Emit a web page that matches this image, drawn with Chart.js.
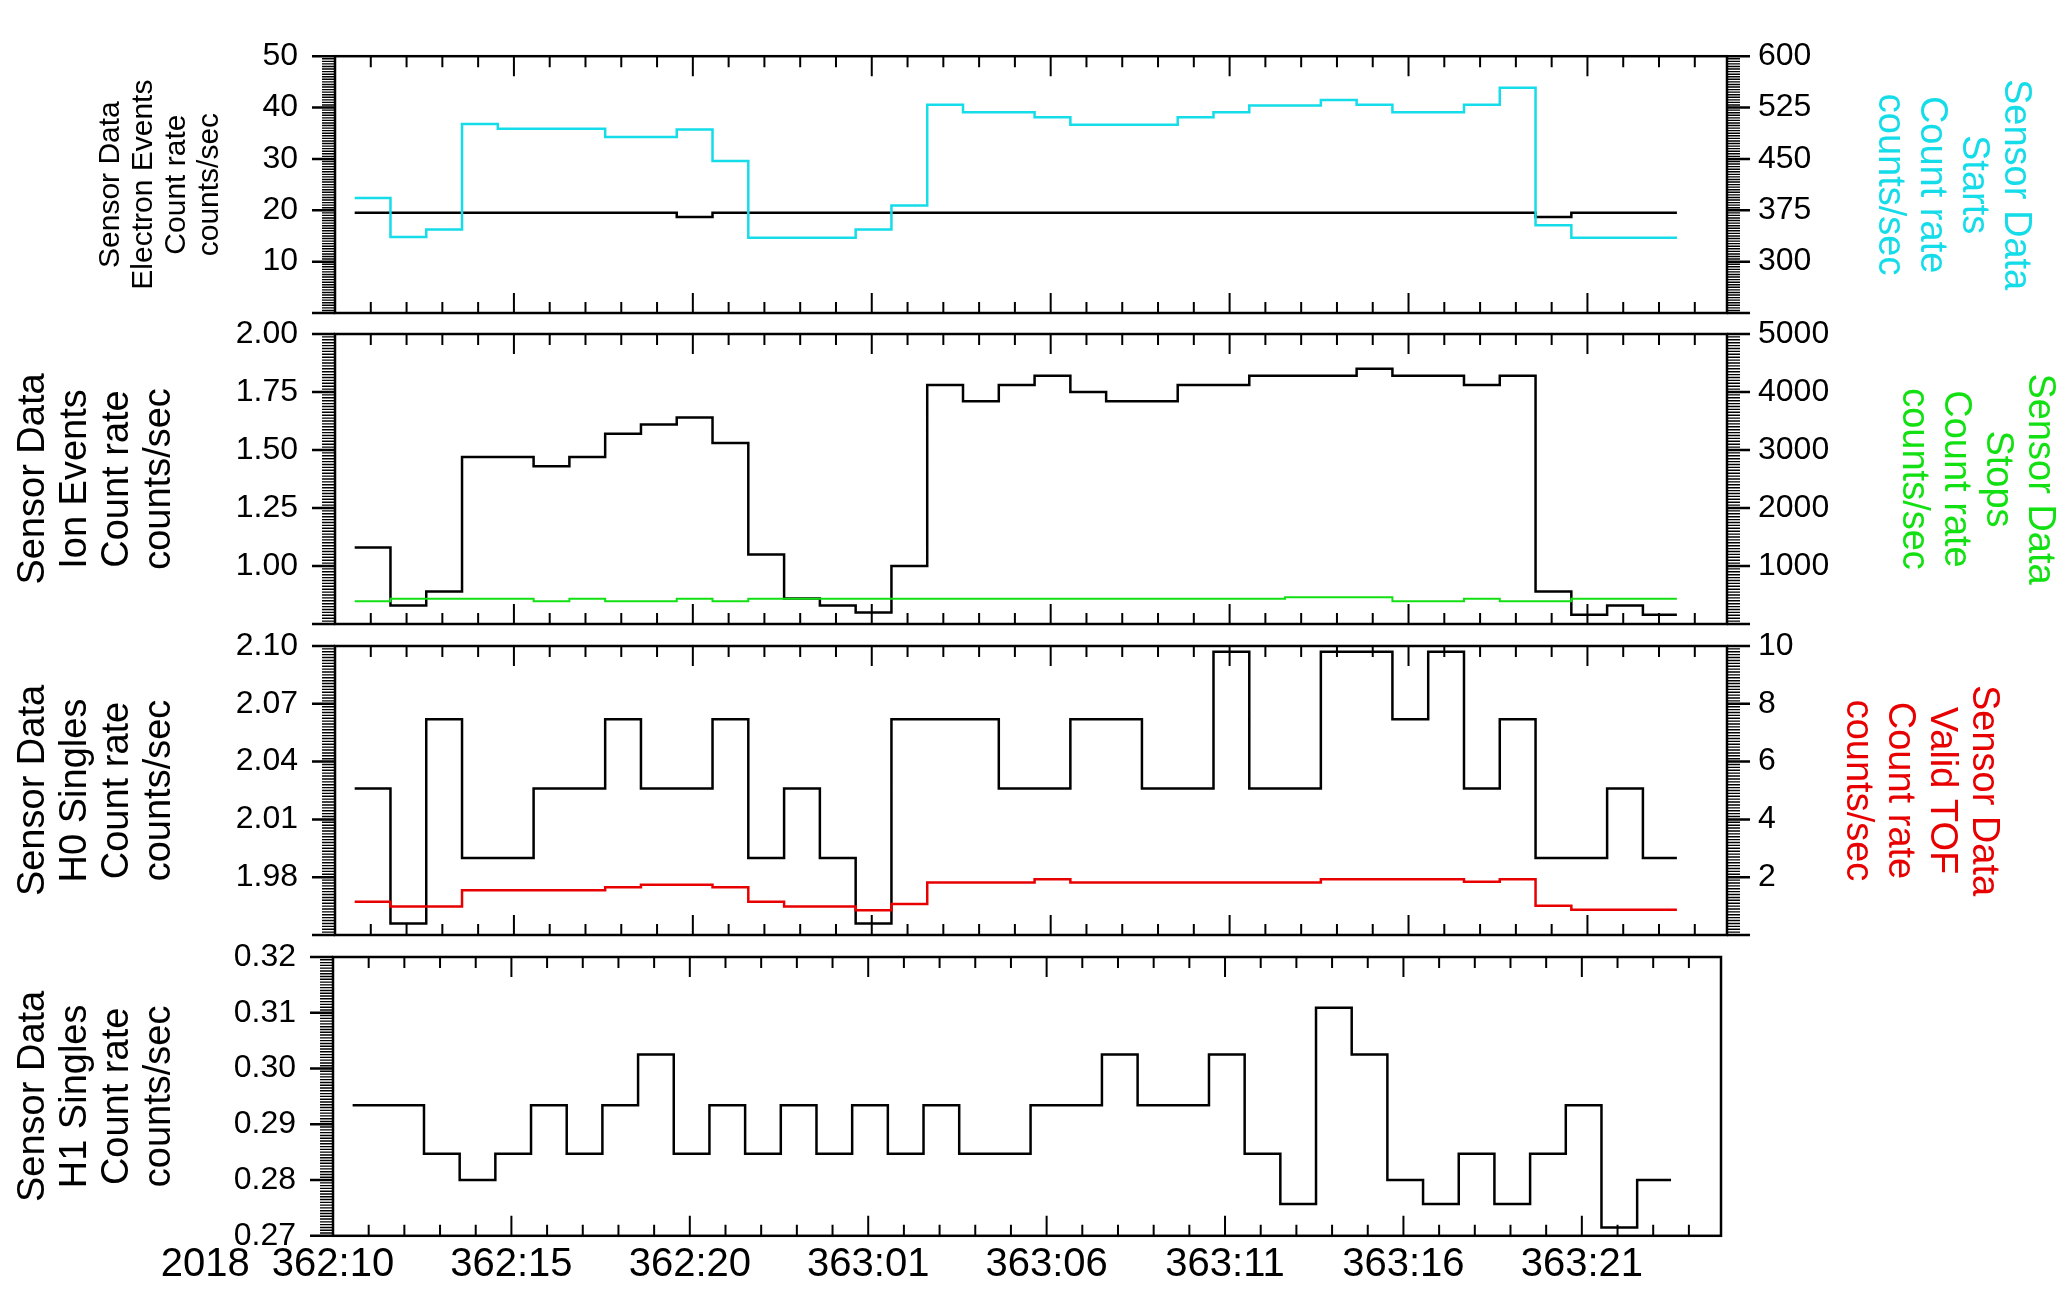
<!DOCTYPE html>
<html>
<head>
<meta charset="utf-8">
<title>Sensor Data count rates</title>
<script src="https://cdn.jsdelivr.net/npm/chart.js@4.4.1/dist/chart.umd.min.js"></script>
<style>
  html, body { margin: 0; padding: 0; background: #fff; }
  canvas { position: absolute; left: 0; top: 0; }
</style>
</head>
<body>
<canvas id="panel1" width="2060" height="1292"></canvas>
<canvas id="panel2" width="2060" height="1292"></canvas>
<canvas id="panel3" width="2060" height="1292"></canvas>
<canvas id="panel4" width="2060" height="1292"></canvas>
<script>
// Hourly bin edges, in hours after 2018 362:10
const binEdges = [0.55, 1.55, 2.55, 3.55, 4.55, 5.55, 6.55, 7.55, 8.55, 9.55,
    10.55, 11.55, 12.55, 13.55, 14.55, 15.55, 16.55, 17.55, 18.55, 19.55,
    20.55, 21.55, 22.55, 23.55, 24.55, 25.55, 26.55, 27.55, 28.55, 29.55,
    30.55, 31.55, 32.55, 33.55, 34.55, 35.55, 36.55, 37.5];

// Time axis labels
const yearLabel = '2018';
const tickHours = [0, 5, 10, 15, 20, 25, 30, 35];
const tickLabels = ['362:10', '362:15', '362:20', '363:01', '363:06', '363:11', '363:16', '363:21'];

// Panel 1: electron events (left) and starts (right)
const electronRate = [19.5, 19.5, 19.5, 19.5, 19.5, 19.5, 19.5, 19.5, 19.5, 18.7,
    19.5, 19.5, 19.5, 19.5, 19.5, 19.5, 19.5, 19.5, 19.5, 19.5,
    19.5, 19.5, 19.5, 19.5, 19.5, 19.5, 19.5, 19.5, 19.5, 19.5,
    19.5, 19.5, 19.5, 18.7, 19.5, 19.5, 19.5];
const startsRate = [393, 336, 347, 501, 494, 494, 494, 482, 482, 493,
    447, 335, 335, 335, 347, 382, 529, 518, 518, 511,
    500, 500, 500, 511, 518, 528, 528, 536, 529, 518,
    518, 529, 554, 353, 335, 335, 335];

// Panel 2: ion events (left) and stops (right)
const ionRate = [1.08, 0.83, 0.89, 1.47, 1.47, 1.43, 1.47, 1.57, 1.61, 1.64,
    1.53, 1.05, 0.86, 0.83, 0.80, 1.00, 1.78, 1.71, 1.78, 1.82,
    1.75, 1.71, 1.71, 1.78, 1.78, 1.82, 1.82, 1.82, 1.85, 1.82,
    1.82, 1.78, 1.82, 0.89, 0.79, 0.83, 0.79];
const stopsRate = [392, 437, 437, 437, 437, 392, 437, 392, 392, 437,
    392, 437, 437, 437, 437, 437, 437, 437, 437, 437,
    437, 437, 437, 437, 437, 437, 460, 460, 460, 392,
    392, 437, 392, 392, 437, 437, 437];

// Panel 3: H0 singles (left) and valid TOF (right)
const h0Rate = [2.026, 1.956, 2.062, 1.990, 1.990, 2.026, 2.026, 2.062, 2.026, 2.026,
    2.062, 1.990, 2.026, 1.990, 1.956, 2.062, 2.062, 2.062, 2.026, 2.026,
    2.062, 2.062, 2.026, 2.026, 2.097, 2.026, 2.026, 2.097, 2.097, 2.062,
    2.097, 2.026, 2.062, 1.990, 1.990, 2.026, 1.990];
const tofRate = [1.15, 0.99, 0.99, 1.55, 1.55, 1.55, 1.55, 1.65, 1.74, 1.74,
    1.65, 1.15, 0.99, 0.99, 0.86, 1.07, 1.82, 1.82, 1.82, 1.93,
    1.82, 1.82, 1.82, 1.82, 1.82, 1.82, 1.82, 1.93, 1.93, 1.93,
    1.93, 1.84, 1.93, 1.01, 0.87, 0.87, 0.87];

// Panel 4: H1 singles
const h1Rate = [0.2934, 0.2934, 0.2847, 0.2800, 0.2847, 0.2934, 0.2847, 0.2934, 0.3025, 0.2847,
    0.2934, 0.2847, 0.2934, 0.2847, 0.2934, 0.2847, 0.2934, 0.2847, 0.2847, 0.2934,
    0.2934, 0.3025, 0.2934, 0.2934, 0.3025, 0.2847, 0.2757, 0.3109, 0.3025, 0.2800,
    0.2757, 0.2847, 0.2757, 0.2847, 0.2934, 0.2715, 0.2800];

const FONT = "'Liberation Sans', Arial, Helvetica, sans-serif";
const HOURS_MAX = 38.9;
const CYAN = '#14dce8';
const GREEN = '#12e012';
const RED = '#e80000';

function stepPoints(values) {
    // each value holds from its bin edge to the next one
    return binEdges.map((h, i) => ({ x: h, y: values[Math.min(i, values.length - 1)] }));
}

function lineSet(label, values, axis, color, width) {
    return {
        label: label,
        data: stepPoints(values),
        yAxisID: axis,
        borderColor: color,
        borderWidth: width,
        stepped: true,
        pointRadius: 0,
        fill: false
    };
}

function axisTitle(lines, color, size, pad) {
    return {
        display: true,
        text: lines,
        color: color,
        font: { family: FONT, size: size, lineHeight: 1.1 },
        padding: { top: pad, bottom: 0 }
    };
}

function valueAxis(position, min, max, step, decimals, hideMin, boxWidth, title) {
    return {
        type: 'linear',
        position: position,
        min: min,
        max: max,
        afterFit: function(scale) { scale.width = boxWidth; },
        grid: { display: false, drawTicks: false },
        border: { display: false },
        ticks: {
            stepSize: step,
            padding: position === 'left' ? 37 : 31,
            color: '#000',
            font: { family: FONT, size: 32 },
            callback: function(value) {
                if (hideMin && Math.abs(value - min) < step / 100) return '';
                return value.toFixed(decimals);
            }
        },
        title: title
    };
}

function timeAxis(showLabels) {
    return {
        type: 'linear',
        min: 0,
        max: HOURS_MAX,
        display: showLabels,
        afterBuildTicks: function(scale) {
            scale.ticks = tickHours.map(v => ({ value: v }));
        },
        afterFit: function(scale) { scale.height = showLabels ? 49 : 0; },
        grid: { display: false, drawTicks: false },
        border: { display: false },
        ticks: {
            autoSkip: false,
            maxRotation: 0,
            padding: 5,
            color: '#000',
            font: { family: FONT, size: 40 },
            callback: function(value) {
                const i = tickHours.indexOf(value);
                // pad the first label so the time part sits on the tick
                if (i === 0) return yearLabel + '  ' + tickLabels[0] + ' '.repeat(10);
                return tickLabels[i];
            }
        }
    };
}

// Box, inward hour ticks and outward value ticks
const frameTicks = {
    id: 'frameTicks',
    afterDatasetsDraw(chart) {
        const { ctx, chartArea: a, scales } = chart;
        const x = scales.x;
        ctx.save();
        ctx.strokeStyle = '#000';

        ctx.lineWidth = 2;
        ctx.beginPath();
        for (let h = 0; h <= x.max; h++) {
            const px = x.getPixelForValue(h);
            const len = h % 5 === 0 ? 20 : 11;
            ctx.moveTo(px, a.bottom);
            ctx.lineTo(px, a.bottom - len);
            ctx.moveTo(px, a.top);
            ctx.lineTo(px, a.top + len);
        }
        ctx.stroke();

        ['y', 'y1'].forEach(id => {
            const s = scales[id];
            if (!s) return;
            const dir = s.position === 'left' ? -1 : 1;
            const edge = dir < 0 ? a.left : a.right;
            const n = (s.ticks.length - 1) * 20;
            const minor = new Path2D();
            const major = new Path2D();
            for (let i = 0; i <= n; i++) {
                const py = s.getPixelForValue(s.min + (s.max - s.min) * i / n);
                const path = i % 20 === 0 ? major : minor;
                path.moveTo(edge, py);
                path.lineTo(edge + dir * (i % 20 === 0 ? 23 : 13), py);
            }
            ctx.lineWidth = 1.4;
            ctx.stroke(minor);
            ctx.lineWidth = 2.5;
            ctx.stroke(major);
        });

        ctx.lineWidth = 2.5;
        ctx.strokeRect(a.left, a.top, a.right - a.left, a.bottom - a.top);
        ctx.restore();
    }
};

function makePanel(canvasId, datasets, scales, padding) {
    const ctx = document.getElementById(canvasId).getContext('2d');
    new Chart(ctx, {
        type: 'line',
        data: { datasets: datasets },
        options: {
            responsive: false,
            animation: false,
            devicePixelRatio: 1,
            layout: { padding: padding },
            plugins: {
                legend: { display: false },
                tooltip: { enabled: false }
            },
            scales: scales
        },
        plugins: [frameTicks]
    });
}

makePanel('panel1',
    [
        lineSet('Starts', startsRate, 'y1', CYAN, 2.5),
        lineSet('Electron Events', electronRate, 'y', '#000', 2.5)
    ],
    {
        x: timeAxis(false),
        y: valueAxis('left', 0, 50, 10, 0, true, 335,
            axisTitle(['Sensor Data', 'Electron Events', 'Count rate', 'counts/sec'], '#000', 30, 94)),
        y1: valueAxis('right', 225, 600, 75, 0, true, 333,
            axisTitle(['Sensor Data', 'Starts', 'Count rate', 'counts/sec'], CYAN, 38, 24))
    },
    { top: 24, bottom: 979, left: 0, right: 0 });

makePanel('panel2',
    [
        lineSet('Stops', stopsRate, 'y1', GREEN, 2),
        lineSet('Ion Events', ionRate, 'y', '#000', 2.5)
    ],
    {
        x: timeAxis(false),
        y: valueAxis('left', 0.75, 2.00, 0.25, 2, true, 335,
            axisTitle(['Sensor Data', 'Ion Events', 'Count rate', 'counts/sec'], '#000', 38, 13)),
        y1: valueAxis('right', 0, 5000, 1000, 0, true, 333,
            axisTitle(['Sensor Data', 'Stops', 'Count rate', 'counts/sec'], GREEN, 38, 0))
    },
    { top: 334, bottom: 668, left: 0, right: 0 });

makePanel('panel3',
    [
        lineSet('Valid TOF', tofRate, 'y1', RED, 2.5),
        lineSet('H0 Singles', h0Rate, 'y', '#000', 2.5)
    ],
    {
        x: timeAxis(false),
        y: valueAxis('left', 1.95, 2.10, 0.03, 2, true, 335,
            axisTitle(['Sensor Data', 'H0 Singles', 'Count rate', 'counts/sec'], '#000', 38, 13)),
        y1: valueAxis('right', 0, 10, 2, 0, true, 333,
            axisTitle(['Sensor Data', 'Valid TOF', 'Count rate', 'counts/sec'], RED, 38, 56))
    },
    { top: 646, bottom: 357, left: 0, right: 0 });

makePanel('panel4',
    [
        lineSet('H1 Singles', h1Rate, 'y', '#000', 2.5)
    ],
    {
        x: timeAxis(true),
        y: valueAxis('left', 0.27, 0.32, 0.01, 2, false, 333,
            axisTitle(['Sensor Data', 'H1 Singles', 'Count rate', 'counts/sec'], '#000', 38, 13))
    },
    { top: 957, bottom: 0, left: 0, right: 339 });
</script>
</body>
</html>
